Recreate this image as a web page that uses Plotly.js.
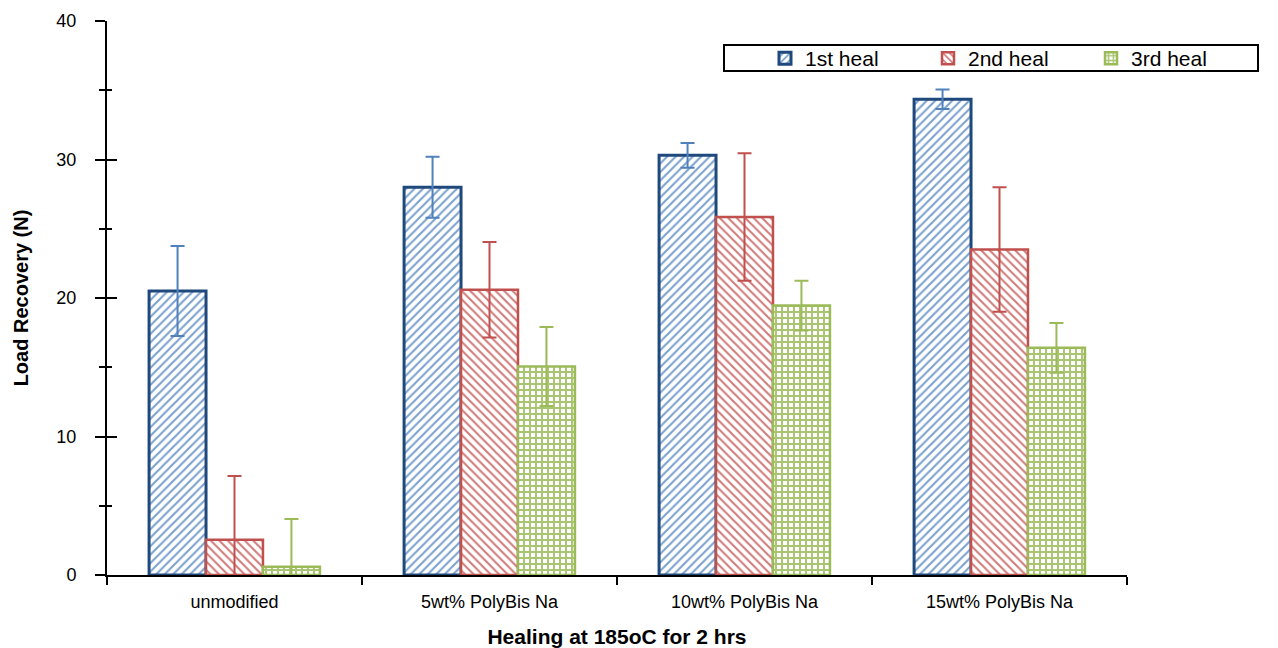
<!DOCTYPE html>
<html>
<head>
<meta charset="utf-8">
<script src="https://cdn.plot.ly/plotly-3.0.1.min.js"></script>
<style>html,body{margin:0;padding:0;background:#fff;}#chart{width:1278px;height:648px;}</style>
</head>
<body>
<div id="chart"></div>
<script>
const categories = ["unmodified", "5wt% PolyBis Na", "10wt% PolyBis Na", "15wt% PolyBis Na"];
const seriesNames = ["1st heal", "2nd heal", "3rd heal"];
const heal1 = [20.5, 28.0, 30.3, 34.35];
const heal1Err = [3.25, 2.2, 0.9, 0.7];
const heal2 = [2.55, 20.6, 25.85, 23.5];
const heal2Err = [4.6, 3.45, 4.6, 4.5];
const heal3 = [0.6, 15.05, 19.45, 16.4];
const heal3Err = [3.45, 2.85, 1.8, 1.8];

const FONT = "Liberation Sans, Arial, sans-serif";
function bar(name, y, err, line, fg, shape, lw, ecol, size, solidity, fgop) {
  return {
    type: "bar", name: name, x: categories, y: y,
    marker: {
      color: "#ffffff",
      line: {color: line, width: lw},
      pattern: {shape: shape, fgcolor: fg, fgopacity: fgop, bgcolor: "#ffffff", size: size, solidity: solidity}
    },
    error_y: {type: "data", array: err, visible: true, color: ecol, thickness: 2, width: 7}
  };
}
const data = [
  bar(seriesNames[0], heal1, heal1Err, "#1F497D", "#4F81BD", "/", 3, "#4F81BD", 6, 0.35, 0.75),
  bar(seriesNames[1], heal2, heal2Err, "#C0504D", "#C0504D", "\\", 2.5, "#C0504D", 6, 0.35, 0.75),
  bar(seriesNames[2], heal3, heal3Err, "#9BBB59", "#9BBB59", "+", 2.5, "#9BBB59", 6, 0.55, 0.85)
];
const layout = {
  width: 1278, height: 648,
  margin: {l: 107, r: 151, t: 21, b: 73, autoexpand: false},
  paper_bgcolor: "#ffffff", plot_bgcolor: "#ffffff",
  font: {family: FONT, color: "#000000"},
  barmode: "group", bargap: 0.33, bargroupgap: 0,
  showlegend: true,
  legend: {
    orientation: "h",
    x: (765 - 107) / 1020, y: (575 - 38) / 554, xanchor: "left", yanchor: "top",
    font: {family: FONT, size: 21, color: "#000"},
    bgcolor: "rgba(0,0,0,0)", borderwidth: 0,
    entrywidth: 118, entrywidthmode: "pixels", traceorder: "normal"
  },
  xaxis: {
    type: "category", tickson: "boundaries", ticks: "outside", ticklen: 8, tickwidth: 2, tickcolor: "#000",
    showline: true, linecolor: "#000", linewidth: 2, showgrid: false, zeroline: false,
    ticklabelstandoff: 9,
    tickfont: {family: FONT, size: 18, color: "#000"},
    title: {text: "Healing at 185oC for 2 hrs", font: {family: FONT, size: 21, color: "#000", weight: "bold"}, standoff: 22}
  },
  yaxis: {
    range: [0, 40], dtick: 10, ticks: "outside", ticklen: 10, tickwidth: 2, tickcolor: "#000",
    minor: {dtick: 5, ticks: "outside", ticklen: 6, tickwidth: 2, tickcolor: "#000"},
    showline: true, linecolor: "#000", linewidth: 2, showgrid: false, zeroline: false,
    ticklabelstandoff: 15,
    tickfont: {family: FONT, size: 18, color: "#000"},
    title: {text: "Load Recovery (N)", font: {family: FONT, size: 20, color: "#000", weight: "bold"}, standoff: 22}
  },
  yaxis2: {
    overlaying: "y", side: "left", anchor: "x", range: [0, 40], dtick: 10,
    ticks: "inside", ticklen: 10, tickwidth: 2, tickcolor: "#000",
    minor: {dtick: 5, ticks: "inside", ticklen: 5, tickwidth: 2, tickcolor: "#000"},
    showticklabels: false, showline: false, showgrid: false, zeroline: false
  },
  shapes: [{
    type: "rect", xref: "paper", yref: "paper",
    x0: (724 - 107) / 1020, x1: (1258 - 107) / 1020,
    y0: (575 - 71) / 554, y1: (575 - 45) / 554,
    line: {color: "#000", width: 2}, fillcolor: "rgba(0,0,0,0)", layer: "above"
  }]
};
data.push({type: "scatter", x: [categories[0]], y: [null], yaxis: "y2", showlegend: false, hoverinfo: "skip"});
Plotly.newPlot("chart", data, layout, {displayModeBar: false, staticPlot: true});
</script>
</body>
</html>
